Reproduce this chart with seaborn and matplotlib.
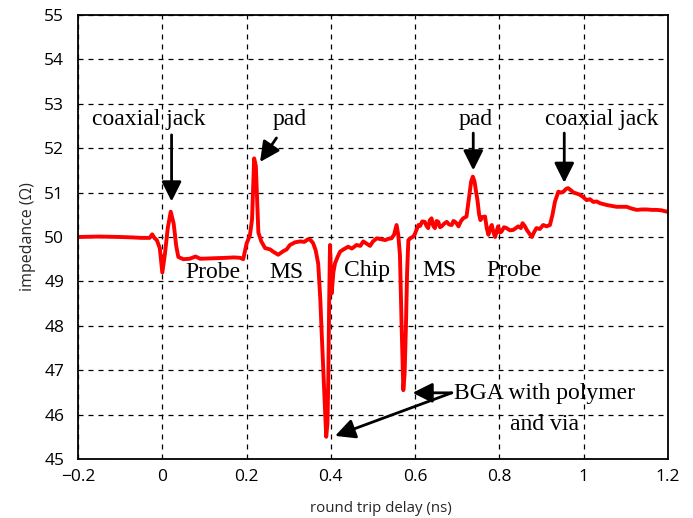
import matplotlib
matplotlib.use("Agg")
import matplotlib.pyplot as plt
import seaborn as sns
from matplotlib.ticker import MultipleLocator

# TDR trace (round trip delay in ns, impedance in ohm)
delay_ns = [
    -0.2, -0.15, -0.1, -0.07, -0.05, -0.03, -0.024, -0.018, -0.013, -0.006,
    0.0, 0.006, 0.013, 0.020, 0.027, 0.033, 0.038, 0.05, 0.065, 0.079,
    0.09, 0.12, 0.15, 0.17, 0.185, 0.192, 0.2, 0.208, 0.213, 0.218,
    0.222, 0.228, 0.235, 0.244, 0.256, 0.263, 0.275, 0.287, 0.295, 0.303,
    0.315, 0.327, 0.337, 0.346, 0.352, 0.358, 0.364, 0.370, 0.375, 0.378,
    0.384, 0.389, 0.392, 0.394, 0.396, 0.398, 0.400, 0.402, 0.406, 0.410,
    0.416, 0.422, 0.430, 0.441, 0.450, 0.461, 0.470, 0.477, 0.485, 0.493,
    0.500, 0.509, 0.519, 0.529, 0.537, 0.544, 0.550, 0.556, 0.560, 0.564,
    0.568, 0.572, 0.575, 0.578, 0.581, 0.584, 0.590, 0.596, 0.600, 0.604,
    0.608, 0.612, 0.617, 0.623, 0.627, 0.631, 0.635, 0.639, 0.643, 0.647,
    0.651, 0.655, 0.659, 0.663, 0.669, 0.675, 0.681, 0.687, 0.691, 0.695,
    0.699, 0.703, 0.709, 0.714, 0.722, 0.728, 0.733, 0.737, 0.741, 0.745,
    0.748, 0.752, 0.755, 0.760, 0.766, 0.770, 0.774, 0.778, 0.782, 0.786,
    0.790, 0.794, 0.797, 0.801, 0.805, 0.811, 0.817, 0.825, 0.833, 0.839,
    0.845, 0.851, 0.855, 0.860, 0.865, 0.871, 0.877, 0.883, 0.888, 0.896,
    0.904, 0.912, 0.920, 0.926, 0.932, 0.940, 0.946, 0.952, 0.958, 0.963,
    0.970, 0.976, 0.983, 0.991, 0.999, 1.007, 1.015, 1.023, 1.031, 1.039,
    1.047, 1.055, 1.066, 1.078, 1.090, 1.102, 1.114, 1.126, 1.138, 1.150,
    1.162, 1.173, 1.185, 1.197, 1.2,
]
impedance = [
    50.00, 50.01, 50.00, 49.99, 49.98, 49.98, 50.06, 49.97, 49.93, 49.75,
    49.2, 49.6, 50.2, 50.57, 50.3, 49.8, 49.55, 49.50, 49.51, 49.56,
    49.51, 49.52, 49.53, 49.54, 49.53, 49.50, 49.85, 50.04, 50.4, 51.77,
    51.6, 50.1, 49.9, 49.75, 49.72, 49.67, 49.6, 49.68, 49.72, 49.82,
    49.88, 49.90, 49.89, 49.95, 49.93, 49.86, 49.7, 49.4, 48.6, 47.9,
    46.6, 45.5, 45.8, 46.8, 48.5, 49.82, 49.3, 48.73, 49.2, 49.41,
    49.55, 49.67, 49.72, 49.78, 49.74, 49.82, 49.80, 49.90, 49.85, 49.80,
    49.90, 49.97, 49.95, 49.93, 49.96, 49.97, 50.05, 50.27, 50.05, 49.6,
    48.0, 46.55, 46.9, 47.9, 49.2, 49.93, 49.98, 50.01, 50.08, 50.18,
    50.27, 50.25, 50.35, 50.34, 50.25, 50.20, 50.38, 50.42, 50.25, 50.20,
    50.36, 50.34, 50.22, 50.24, 50.30, 50.34, 50.28, 50.27, 50.36, 50.34,
    50.30, 50.24, 50.36, 50.42, 50.46, 50.9, 51.25, 51.36, 51.25, 51.0,
    50.83, 50.5, 50.38, 50.45, 50.46, 50.2, 50.05, 50.2, 50.27, 50.1,
    50.0, 50.15, 50.24, 50.1, 50.12, 50.22, 50.20, 50.15, 50.16, 50.2,
    50.24, 50.2, 50.31, 50.25, 50.16, 50.08, 50.0, 50.12, 50.20, 50.18,
    50.27, 50.24, 50.27, 50.5, 50.8, 51.02, 51.0, 51.02, 51.08, 51.10,
    51.05, 51.0, 50.98, 50.95, 50.90, 50.83, 50.85, 50.79, 50.80, 50.76,
    50.74, 50.72, 50.70, 50.68, 50.68, 50.68, 50.64, 50.61, 50.62, 50.62,
    50.61, 50.61, 50.60, 50.57, 50.58,
]

x_ticks = [-0.2, 0.0, 0.2, 0.4, 0.6, 0.8, 1.0, 1.2]
x_tick_labels = ["\u22120.2", "0", "0.2", "0.4", "0.6", "0.8", "1", "1.2"]
y_ticks = [45, 46, 47, 48, 49, 50, 51, 52, 53, 54, 55]

# section labels along the trace
section_labels = ["Probe", "MS", "Chip", "MS", "Probe"]
section_x = [0.119, 0.295, 0.486, 0.658, 0.835]
section_y = [49.2, 49.2, 49.25, 49.25, 49.25]

sns.set_style("white")
serif = ["Liberation Serif", "DejaVu Serif"]
sans = ["Open Sans", "DejaVu Sans"]

fig = plt.figure(figsize=(6.93, 5.18), dpi=100)
ax = fig.add_axes([0.1126, 0.1139, 0.8512, 0.8572])

sns.lineplot(x=delay_ns, y=impedance, color="red", lw=2.8, ax=ax)

ax.set_xticks(x_ticks, x_tick_labels)
ax.set_yticks(y_ticks, [str(v) for v in y_ticks])
ax.xaxis.set_minor_locator(MultipleLocator(0.1))
ax.yaxis.set_minor_locator(MultipleLocator(0.5))
ax.set_xlim(-0.2, 1.2)
ax.set_ylim(45, 55)

ax.grid(True, which="major", color="black", ls=(0, (4, 4)), lw=0.9)
ax.tick_params(which="both", direction="inout", top=False, right=False,
               labelsize=12.5, width=1.2, colors="black")
ax.tick_params(which="major", length=8)
ax.tick_params(which="minor", length=4)
ax.tick_params(axis="x", which="major", pad=3)
ax.tick_params(axis="y", which="major", pad=6)
for lab in ax.get_xticklabels() + ax.get_yticklabels():
    lab.set_family(sans)
for sp in ax.spines.values():
    sp.set_color("black")
    sp.set_linewidth(1.3)

ax.set_xlabel("round trip delay (ns)", family=sans, fontsize=10.8,
              labelpad=12, x=0.514)
ax.set_ylabel("impedance (\u03a9)", family=sans, fontsize=11.5, labelpad=6)

arrow = dict(arrowstyle="-|>,head_length=0.6,head_width=0.3", color="black",
             lw=2, mutation_scale=20, shrinkA=0, shrinkB=0)
txt = dict(family=serif, fontsize=17, color="black", ha="center", va="center")

ax.text(-0.031, 52.65, "coaxial jack", **txt)
ax.annotate("", xy=(0.022, 50.8), xytext=(0.022, 52.3), arrowprops=arrow)
ax.text(0.302, 52.65, "pad", **txt)
ax.annotate("", xy=(0.232, 51.69), xytext=(0.271, 52.23), arrowprops=arrow)
ax.text(0.744, 52.65, "pad", **txt)
ax.annotate("", xy=(0.738, 51.5), xytext=(0.738, 52.34), arrowprops=arrow)
ax.text(1.043, 52.65, "coaxial jack", **txt)
ax.annotate("", xy=(0.954, 51.22), xytext=(0.954, 52.34), arrowprops=arrow)

for lab, x, y in zip(section_labels, section_x, section_y):
    ax.text(x, y, lab, **txt)

ax.text(0.907, 46.13, "BGA with polymer\nand via", linespacing=1.65, **txt)
ax.annotate("", xy=(0.594, 46.49), xytext=(0.687, 46.49), arrowprops=arrow)
ax.annotate("", xy=(0.410, 45.52), xytext=(0.687, 46.49), arrowprops=arrow)

fig.savefig("out.png", dpi=100)
